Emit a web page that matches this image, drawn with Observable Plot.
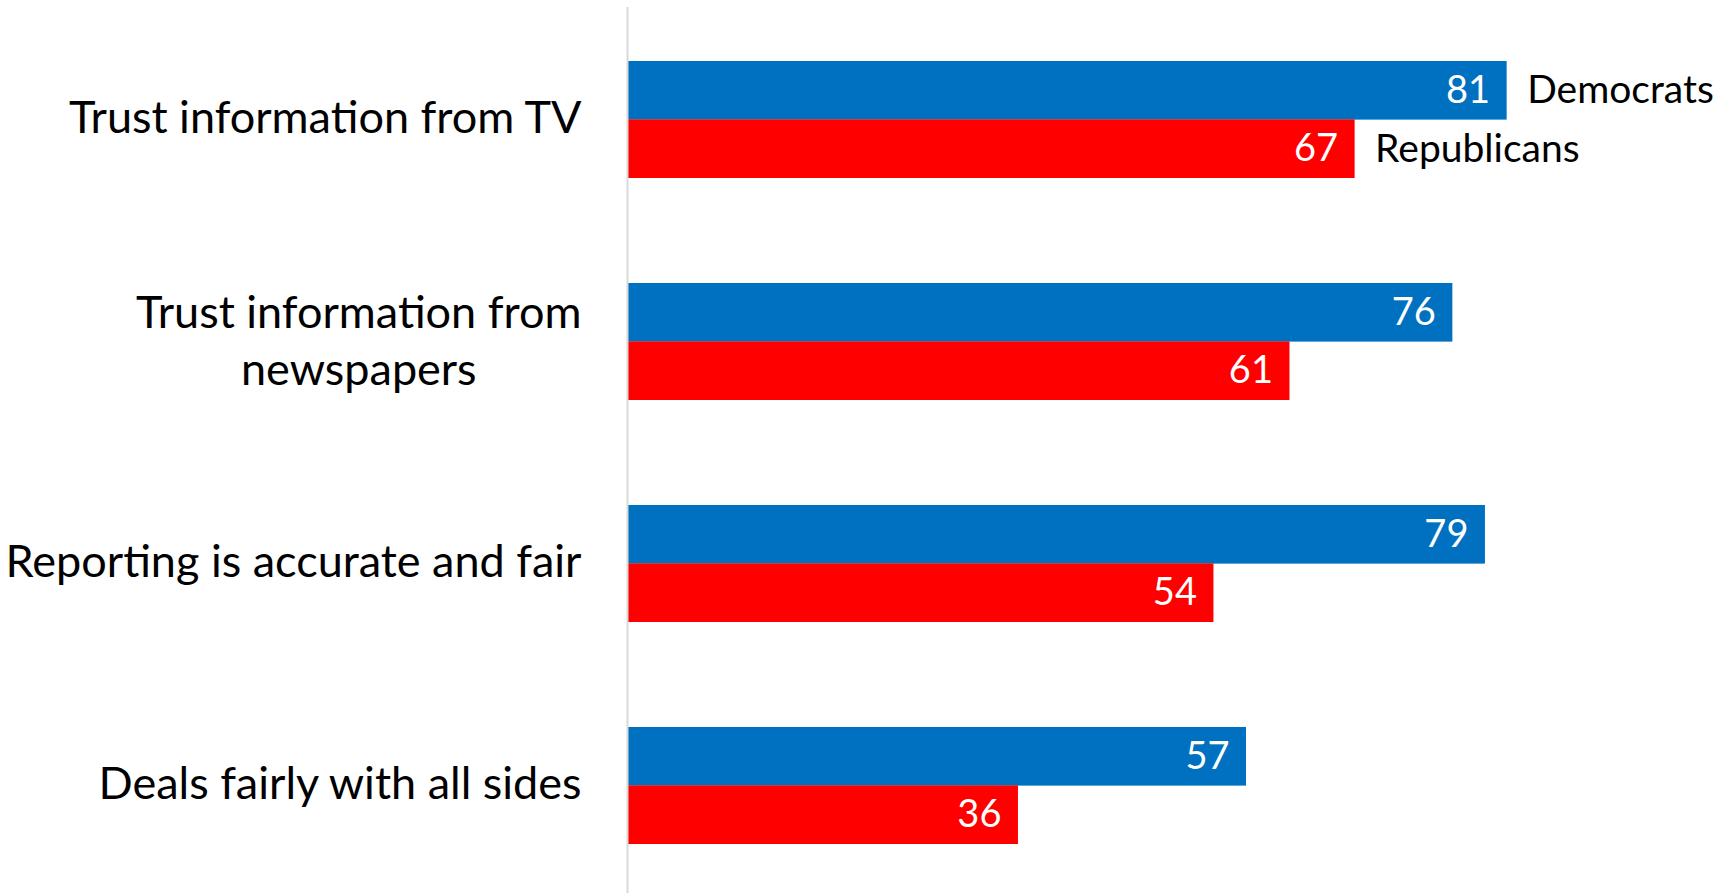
<!DOCTYPE html>
<html>
<head>
<meta charset="utf-8">
<script src="https://cdn.jsdelivr.net/npm/d3@7"></script>
<script src="https://cdn.jsdelivr.net/npm/@observablehq/plot@0.6"></script>
<style>
  html, body { margin: 0; padding: 0; background: #fff; }
  #chart svg { display: block; }
</style>
</head>
<body>
<div id="chart"></div>
<script>
const categories = [
  "Trust information from TV",
  "Trust information from\nnewspapers",
  "Reporting is accurate and fair",
  "Deals fairly with all sides"
];
const democrats = [81, 76, 79, 57];
const republicans = [67, 61, 54, 36];
const seriesNames = ["Democrats", "Republicans"];
const colors = ["#0070C0", "#FF0000"];

const width = 1731, height = 893;
const marginTop = 7, marginBottom = 0, marginLeft = 627, marginRight = 18;
const paddingInner = 0.475, paddingOuter = 0.2295, align = 0.52;

// compute the band width the same way Plot's band scale will
const band = d3.scaleBand().domain(categories).range([marginTop, height - marginBottom])
  .paddingInner(paddingInner).paddingOuter(paddingOuter).align(align);
const half = band.bandwidth() / 2;

const dem = categories.map((c, i) => ({category: c, value: democrats[i], series: seriesNames[0]}));
const rep = categories.map((c, i) => ({category: c, value: republicans[i], series: seriesNames[1]}));

const font = "Lato, 'Open Sans', sans-serif";
const labelSize = 45;
const labelGap = 46;

// measure text so multi-line labels are centred as a right-aligned block
const ctx = document.createElement("canvas").getContext("2d");
ctx.font = `${labelSize}px Lato, 'Open Sans', sans-serif`;
const blockWidth = s => d3.max(s.split("\n"), l => ctx.measureText(l).width);

const singleLine = categories.filter(c => !c.includes("\n"));
const multiLine = categories.filter(c => c.includes("\n"));

const labelMarks = [
  Plot.text(singleLine, {x: 0, y: d => d, text: d => d, dx: -labelGap, dy: -1, textAnchor: "end",
    fill: "black", fontSize: labelSize}),
  ...multiLine.map(c => Plot.text([c], {x: 0, y: d => d, text: d => d,
    dx: -labelGap - blockWidth(c) / 2, dy: -4, textAnchor: "middle",
    fill: "black", fontSize: labelSize, lineHeight: 1.28}))
];

const chart = Plot.plot({
  width, height, marginTop, marginBottom, marginLeft, marginRight,
  style: {fontFamily: font, background: "#fff"},
  x: {domain: [0, 100], axis: null},
  y: {domain: categories, paddingInner, paddingOuter, align, axis: null},
  marks: [
    Plot.barX(dem, {x: "value", y: "category", fill: colors[0], insetBottom: half}),
    Plot.barX(rep, {x: "value", y: "category", fill: colors[1], insetTop: half}),
    Plot.ruleX([0], {stroke: "#D9D9D9", strokeWidth: 2}),
    Plot.text(dem, {x: "value", y: "category", text: d => String(d.value), dy: -half / 2, dx: -17,
      textAnchor: "end", fill: "white", fontSize: 38}),
    Plot.text(rep, {x: "value", y: "category", text: d => String(d.value), dy: half / 2, dx: -17,
      textAnchor: "end", fill: "white", fontSize: 38}),
    Plot.text(dem.slice(0, 1), {x: "value", y: "category", text: "series", dy: -half / 2, dx: 20,
      textAnchor: "start", fill: "black", fontSize: 39}),
    Plot.text(rep.slice(0, 1), {x: "value", y: "category", text: "series", dy: half / 2, dx: 20,
      textAnchor: "start", fill: "black", fontSize: 39}),
    ...labelMarks
  ]
});
document.getElementById("chart").appendChild(chart);
</script>
</body>
</html>
